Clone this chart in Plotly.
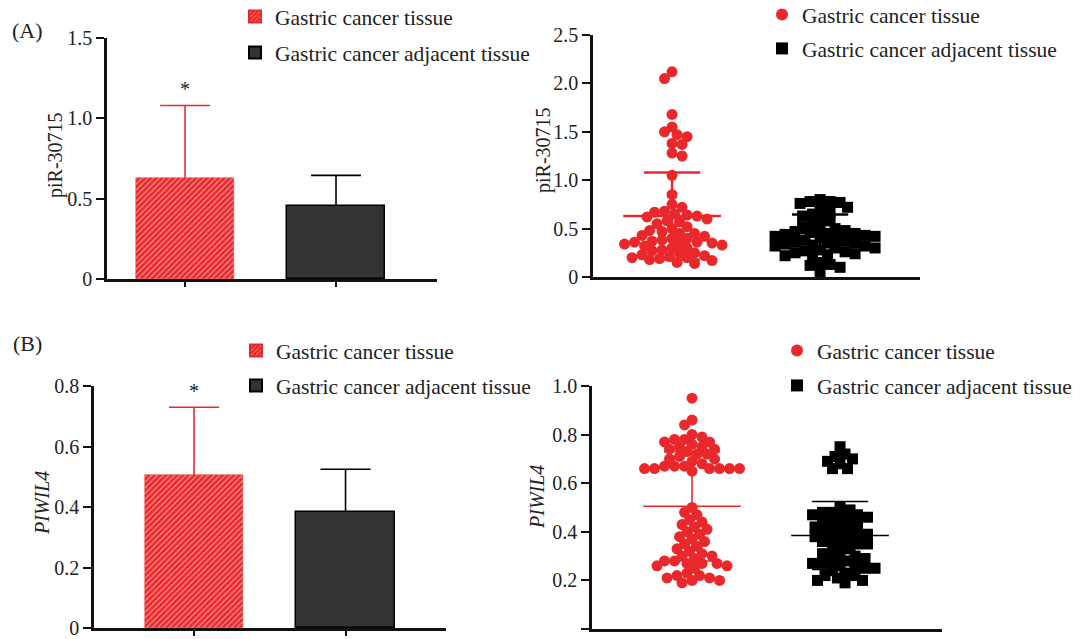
import plotly.graph_objects as go

W, H = 1083, 639

groups = ["Gastric cancer tissue", "Gastric cancer adjacent tissue"]

# summary values (mean, SD)
pir_mean = [0.63, 0.455]
pir_sd = [0.45, 0.19]
piwil_mean = [0.505, 0.385]
piwil_sd = [0.225, 0.14]

# individual samples
pir_tumor = [2.12, 2.05, 1.68, 1.55, 1.50, 1.47, 1.45, 1.38, 1.37, 1.28, 1.25, 1.05, 0.85,
             0.75, 0.72, 0.68, 0.67, 0.65, 0.64, 0.63, 0.62, 0.60, 0.58, 0.57, 0.55, 0.52,
             0.50, 0.48, 0.47, 0.45, 0.45, 0.43, 0.42, 0.40, 0.40, 0.38, 0.37, 0.36, 0.36,
             0.35, 0.35, 0.34, 0.33, 0.32, 0.30, 0.30, 0.28, 0.27, 0.25, 0.25, 0.23, 0.22,
             0.21, 0.20, 0.20, 0.19, 0.18, 0.17, 0.15, 0.14]
pir_adjacent = [0.80, 0.78, 0.78, 0.77, 0.76, 0.72, 0.70, 0.67, 0.65, 0.63, 0.60, 0.58,
                0.55, 0.52, 0.50, 0.50, 0.48, 0.47, 0.46, 0.45, 0.45, 0.44, 0.43, 0.42,
                0.42, 0.40, 0.40, 0.38, 0.37, 0.36, 0.35, 0.35, 0.34, 0.33, 0.32, 0.32,
                0.30, 0.30, 0.28, 0.27, 0.26, 0.25, 0.24, 0.23, 0.22, 0.22, 0.15, 0.13,
                0.12, 0.10, 0.05]
piwil_tumor = [0.95, 0.86, 0.84, 0.80, 0.79, 0.78, 0.78, 0.77, 0.77, 0.76, 0.75, 0.75,
               0.74, 0.74, 0.73, 0.72, 0.72, 0.71, 0.70, 0.70, 0.69, 0.68, 0.67, 0.67,
               0.67, 0.66, 0.66, 0.66, 0.66, 0.66, 0.66, 0.65, 0.50, 0.48, 0.47, 0.45,
               0.44, 0.43, 0.42, 0.41, 0.40, 0.39, 0.38, 0.37, 0.36, 0.35, 0.34, 0.33,
               0.32, 0.31, 0.30, 0.30, 0.29, 0.28, 0.28, 0.27, 0.27, 0.27, 0.26, 0.26,
               0.25, 0.23, 0.22, 0.22, 0.21, 0.21, 0.20, 0.20, 0.19]
piwil_adjacent = [0.75, 0.72, 0.71, 0.70, 0.69, 0.68, 0.66, 0.66, 0.50, 0.49, 0.48, 0.48,
                  0.47, 0.47, 0.46, 0.46, 0.45, 0.44, 0.44, 0.43, 0.42, 0.42, 0.41, 0.40,
                  0.40, 0.39, 0.39, 0.38, 0.38, 0.37, 0.36, 0.36, 0.35, 0.35, 0.34, 0.33,
                  0.32, 0.31, 0.30, 0.30, 0.29, 0.28, 0.28, 0.27, 0.27, 0.26, 0.26, 0.25,
                  0.25, 0.24, 0.23, 0.22, 0.22, 0.21, 0.20, 0.20, 0.19]

pir_bar_ticks = [0, 0.5, 1.0, 1.5]
pir_bar_ticktext = ["0", "0.5", "1.0", "1.5"]
pir_dot_ticks = [0, 0.5, 1.0, 1.5, 2.0, 2.5]
pir_dot_ticktext = ["0", "0.5", "1.0", "1.5", "2.0", "2.5"]
piwil_bar_ticks = [0, 0.2, 0.4, 0.6, 0.8]
piwil_bar_ticktext = ["0", "0.2", "0.4", "0.6", "0.8"]
piwil_dot_ticks = [0, 0.2, 0.4, 0.6, 0.8, 1.0]
piwil_dot_ticktext = ["0", "0.2", "0.4", "0.6", "0.8", "1.0"]

RED = "#EA282C"
DARK = "#333333"
FONT = "Liberation Serif"
FS = 20
LFS = 21.5

# panel geometry (pixels): x0, x1, y_bottom, y_top, xrange, yrange
panels = {
    1: dict(px=(107, 437), py=(279, 38), xr=(-0.517, 1.669), yr=(0, 1.5)),
    2: dict(px=(593, 920), py=(277, 35), xr=(-0.534, 1.675), yr=(0, 2.5)),
    3: dict(px=(94, 446), py=(628, 386), xr=(-0.66, 1.663), yr=(0, 0.8)),
    4: dict(px=(592, 942), py=(629, 386), xr=(-0.676, 1.689), yr=(0, 1.0)),
}


def scales(p):
    sx = (p["px"][1] - p["px"][0]) / (p["xr"][1] - p["xr"][0])
    sy = (p["py"][0] - p["py"][1]) / (p["yr"][1] - p["yr"][0])
    return sx, sy


def swarm(values, sx, sy, step=2.5, dmin=8.5):
    order = sorted(range(len(values)), key=lambda i: -values[i])
    placed = []
    off = [0.0] * len(values)
    for i in order:
        y = values[i] * sy
        k = 0
        chosen = None
        while chosen is None:
            cands = [0.0] if k == 0 else [k * step, -k * step]
            if k % 2 == 1 and k > 0:
                cands = cands[::-1]
            for c in cands:
                if all((c - a) ** 2 + (y - b) ** 2 >= dmin ** 2 for a, b in placed):
                    chosen = c
                    break
            k += 1
        placed.append((chosen, y))
        off[i] = chosen / sx
    return off


fig = go.Figure()


def ax_names(n):
    return ("x" if n == 1 else f"x{n}", "y" if n == 1 else f"y{n}")


def bar_panel(n, means, sds, legend):
    xa, ya = ax_names(n)
    fig.add_trace(go.Bar(
        x=[0], y=[means[0]], width=0.65, name=groups[0], xaxis=xa, yaxis=ya,
        legend=legend, legendgroup=f"{legend}a",
        marker=dict(color=RED, line=dict(color=RED, width=0.5),
                    pattern=dict(shape="/", bgcolor=RED, fgcolor="#F6A9A9",
                                 size=4, solidity=0.25, fillmode="replace"))))
    fig.add_trace(go.Bar(
        x=[1], y=[means[1]], width=0.65, name=groups[1], xaxis=xa, yaxis=ya,
        legend=legend, legendgroup=f"{legend}b",
        marker=dict(color=DARK, line=dict(color="#000000", width=1.5))))
    for g, col in ((0, RED), (1, "#000000")):
        top = means[g] + sds[g]
        cw = 0.165
        fig.add_trace(go.Scatter(
            x=[g - cw, g + cw, None, g, g], y=[top, top, None, means[g], top],
            mode="lines", line=dict(color=col, width=1.6), xaxis=xa, yaxis=ya,
            showlegend=False, hoverinfo="skip"))
    fig.add_annotation(x=0, y=means[0] + sds[0], xref=xa, yref=ya, text="*",
                       showarrow=False, yshift=16, font=dict(size=FS, family=FONT, color="#222"))


def dot_panel(n, tumor, adjacent, means, sds, legend, lw):
    xa, ya = ax_names(n)
    sx, sy = scales(panels[n])
    for g, vals, col, sym in ((0, tumor, RED, "circle"), (1, adjacent, "#000000", "square")):
        off = swarm(vals, sx, sy)
        fig.add_trace(go.Scatter(
            x=[g + o for o in off], y=vals, mode="markers", name=groups[g],
            xaxis=xa, yaxis=ya, legend=legend, legendgroup=f"{legend}{g}",
            marker=dict(color=col, symbol=sym, size=11, line=dict(width=0))))
    for g, col in ((0, RED), (1, "#000000")):
        m, s = means[g], sds[g]
        mw, cw = 0.33, 0.19
        fig.add_trace(go.Scatter(
            x=[g - mw, g + mw, None, g - cw, g + cw, None, g - cw, g + cw, None, g, g],
            y=[m, m, None, m + s, m + s, None, m - s, m - s, None, m - s, m + s],
            mode="lines", line=dict(color=col, width=lw), xaxis=xa, yaxis=ya,
            showlegend=False, hoverinfo="skip"))


bar_panel(1, pir_mean, pir_sd, "legend")
dot_panel(2, pir_tumor, pir_adjacent, pir_mean, pir_sd, "legend2", 2.5)
bar_panel(3, piwil_mean, piwil_sd, "legend3")
dot_panel(4, piwil_tumor, piwil_adjacent, piwil_mean, piwil_sd, "legend4", 1.6)

ticks = {1: (pir_bar_ticks, pir_bar_ticktext), 2: (pir_dot_ticks, pir_dot_ticktext),
         3: (piwil_bar_ticks, piwil_bar_ticktext), 4: (piwil_dot_ticks, piwil_dot_ticktext)}

layout = {}
for n, p in panels.items():
    xa, ya = ax_names(n)
    xk = "xaxis" if n == 1 else f"xaxis{n}"
    yk = "yaxis" if n == 1 else f"yaxis{n}"
    is_bar = n in (1, 3)
    layout[xk] = dict(
        domain=[p["px"][0] / W, p["px"][1] / W], range=list(p["xr"]), anchor=ya,
        showgrid=False, zeroline=False, showline=True, linecolor="#111", linewidth=2.5,
        tickvals=[0, 1] if is_bar else [], ticktext=["", ""] if is_bar else [],
        ticks="outside" if is_bar else "", ticklen=5, tickwidth=1.5, tickcolor="#111",
        fixedrange=True)
    layout[yk] = dict(
        domain=[1 - p["py"][0] / H, 1 - p["py"][1] / H], range=list(p["yr"]), anchor=xa,
        showgrid=False, zeroline=False, showline=True, linecolor="#111", linewidth=2.5,
        tickvals=ticks[n][0], ticktext=ticks[n][1], ticks="outside", ticklen=8,
        tickwidth=2, tickcolor="#111", tickfont=dict(size=FS, family=FONT, color="#222"),
        fixedrange=True)

legfont = dict(size=LFS, family=FONT, color="#222")
legs = {
    "legend": (235, -4, 5), "legend2": (762, -6, 3),
    "legend3": (236, 330, 4), "legend4": (777, 330, 4),
}
for k, (lx, ly, gap) in legs.items():
    layout[k] = dict(x=lx / W, y=1 - ly / H, xanchor="left", yanchor="top",
                     font=legfont, bgcolor="rgba(0,0,0,0)", tracegroupgap=gap,
                     traceorder="grouped", itemsizing="constant")

annotations = [
    dict(x=56 / W, y=1 - 155 / H, text="piR-30715", textangle=-90),
    dict(x=543 / W, y=1 - 150 / H, text="piR-30715", textangle=-90),
    dict(x=42 / W, y=1 - 503 / H, text="<i>PIWIL4</i>", textangle=-90),
    dict(x=537 / W, y=1 - 497 / H, text="<i>PIWIL4</i>", textangle=-90),
    dict(x=27 / W, y=1 - 30 / H, text="(A)"),
    dict(x=27 / W, y=1 - 343 / H, text="(B)"),
]
for a in annotations:
    a.update(xref="paper", yref="paper", showarrow=False, xanchor="center", yanchor="middle",
             font=dict(size=22 if a["text"].startswith("(") else FS, family=FONT, color="#222"))

fig.update_layout(
    width=W, height=H, margin=dict(l=0, r=0, t=0, b=0, autoexpand=False),
    paper_bgcolor="white", plot_bgcolor="white", bargap=0,
    font=dict(family=FONT, size=FS, color="#222"),
    **layout)
for a in annotations:
    fig.add_annotation(**a)

fig.write_html("out.html", config={"displayModeBar": False},
               post_script="document.body.style.margin='0';")
